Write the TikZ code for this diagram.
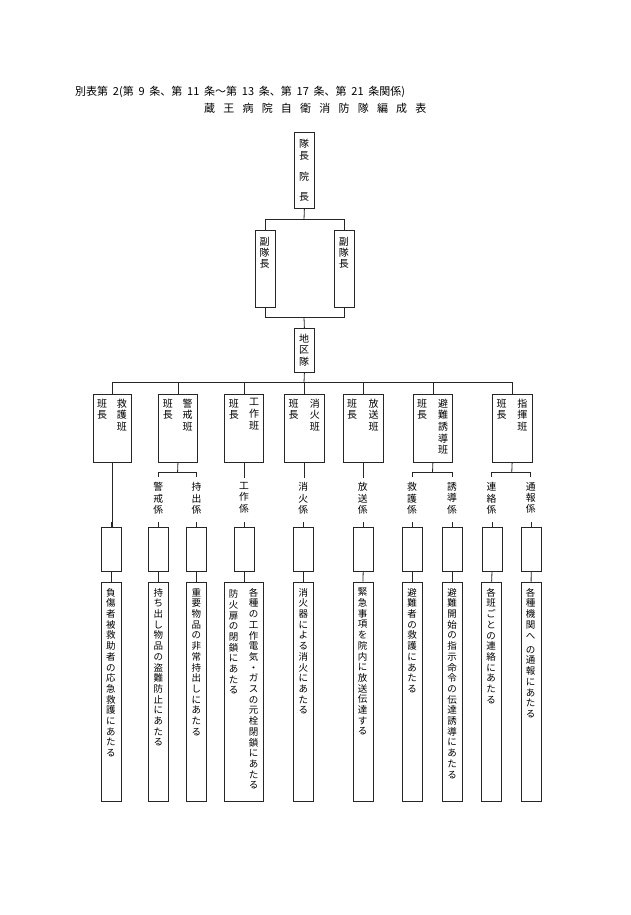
\documentclass[tikz,border=0pt]{standalone}
\usepackage{fontspec}
\newfontfamily\cjk{Noto Sans CJK JP}
\newdimen\vtgap
\makeatletter
\def\vt@end{\vt@end}
\protected\def\vgap{}
\newcommand\vtext[3][4pt]{\vtop{\vtgap=#1\relax\baselineskip=#2\relax\lineskiplimit=-\maxdimen\lineskip=0pt\edef\vt@tmp{#3}\expandafter\vt@a\vt@tmp\vt@end}}
\def\vt@a#1{%
  \ifx#1\vt@end\let\vt@next\relax
  \else
    \ifx#1\vgap\kern\vtgap\else\hbox to 1em{\hss#1\hss}\fi
    \let\vt@next\vt@a
  \fi\vt@next}
\makeatother
\newcommand\hsp{\hspace{8.2pt}}
\tikzset{
  ln/.style={draw=black!85, line width=0.8pt},
  bx/.style={draw=black!85, line width=0.8pt, rectangle, inner sep=0pt, anchor=north west},
  tx/.style={inner sep=0pt, anchor=north, font=\cjk\fontsize{10}{11}\selectfont},
  sx/.style={inner sep=0pt, anchor=north, font=\cjk\fontsize{9.5}{10.7}\selectfont},
  hd/.style={inner sep=0pt, anchor=west, font=\cjk\fontsize{11}{13}\selectfont},
}
\newcommand\bx[5]{\node[bx, minimum width=#4pt, minimum height=#5pt] (#1) at (#2,#3) {};}
\begin{document}
\begin{tikzpicture}[x=1pt,y=-1pt]
\fill[white] (0,0) rectangle (630,915);
\useasboundingbox (0,0) rectangle (630,915);
% header
\node[hd] (h1) at (75,91.5) {\makebox[330pt][s]{別表第 2(第 9 条、第 11 条～第 13 条、第 17 条、第 21 条関係)}};
\node[hd] (h2) at (204,108.5) {蔵\hsp 王\hsp 病\hsp 院\hsp 自\hsp 衛\hsp 消\hsp 防\hsp 隊\hsp 編\hsp 成\hsp 表};
% top
\bx{T}{294}{132}{20}{76}
\node[tx] (tT) at (304,138.5) {\vtext[8pt]{12.5pt}{隊長\vgap 院\vgap 長}};
\bx{L}{254.5}{230}{20}{77}
\bx{R}{333.8}{230}{20}{77}
\node[tx] (tL) at (264.5,237.5) {\vtext{11pt}{副隊長}};
\node[tx] (tR) at (343.8,237.5) {\vtext{11pt}{副隊長}};
\bx{D}{294}{328}{20}{44}
\node[tx] (tD) at (304,333.5) {\vtext{11.5pt}{地区隊}};
\coordinate (j1) at (304,219.3);
\coordinate (j2) at (304,317.3);
\coordinate (j3) at (304,382.7);
\draw[ln] (T.south) -- (j1);
\draw[ln] (L.north) |- (j1) -| (R.north);
\draw[ln] (L.south) |- (j2) -| (R.south);
\draw[ln] (j2) -- (D.north);
\draw[ln] (D.south) -- (j3);
% han boxes
\bx{B1}{92.5}{394}{38.5}{67.5}
\bx{B2}{158.3}{394}{38.5}{67.5}
\bx{B3}{224.3}{394}{39}{67.5}
\bx{B4}{284}{394}{40}{67.5}
\bx{B5}{342.7}{394}{40}{67.5}
\bx{B6}{412.7}{394}{39.6}{67.5}
\bx{B7}{492}{394}{39.5}{67.5}
\foreach \b/\t in {B1/救護班,B2/警戒班,B3/工作班,B4/消火班,B5/放送班,B6/避難誘導班,B7/指揮班}{
  \node[tx] (\b l) at ([xshift=9.5pt]\b.north west |- 0,398.5) {\vtext{11.7pt}{班長}};
  \node[tx] (\b r) at ([xshift=-10pt]\b.north east |- 0,398.5) {\vtext{11.7pt}{\t}};
  \draw[ln] (\b.north) |- (j3);
}
% kakari labels
\foreach \n/\x/\t in {L2a/158.3/警戒係,L2b/196.4/持出係,L3/244.1/工作係,L4/303.3/消火係,L5/362.8/放送係,L6a/412/救護係,L6b/452/誘導係,L7a/491.6/連絡係,L7b/530.8/通報係}{
  \node[tx, font=\cjk\fontsize{9.8}{11}\selectfont] (\n) at (\x,482.5) {\vtext{11.1pt}{\t}};
}
% empty boxes and bottom boxes
\foreach \n/\x in {1/110.8,2a/158.3,2b/196.4,3/244.1,4/303.3,5/362.8,6a/412,6b/452,7a/491.6,7b/530.8}{
  \bx{E\n}{\x-10}{526.7}{20}{44}
  \draw[ln] (E\n.north) -- ++(0,-5);
}
\foreach \n/\x in {1/110.8,2a/158.3,2b/196.4,4/303.3,5/362.5,6a/412,6b/452,7a/491.2,7b/530.7}{
  \bx{F\n}{\x-10}{581.7}{20}{219}
  \draw[ln] (E\n.south) -- (F\n.north);
}
\bx{F3}{224.3}{581.7}{39}{219}
\draw[ln] (E3.south) -- (E3.south |- F3.north);
% connectors from han boxes
\draw[ln] (B1.south) -- (B1.south |- E1.north);
\foreach \b in {B3,B4,B5}{\draw[ln] (\b.south) -- ++(0,15.2);}
\coordinate (b2a) at (158.3,476.7); \coordinate (b2b) at (196.4,476.7); \coordinate (b2m) at (177.55,472.7);
\coordinate (b6a) at (412,476.7); \coordinate (b6b) at (452,476.7); \coordinate (b6m) at (432.5,472.7);
\coordinate (b7a) at (491.6,476.7); \coordinate (b7b) at (530.8,476.7); \coordinate (b7m) at (511.75,472.7);
\draw[ln] (B2.south) -- (b2m); \draw[ln] (b2a) |- (b2m) -| (b2b);
\draw[ln] (B6.south) -- (b6m); \draw[ln] (b6a) |- (b6m) -| (b6b);
\draw[ln] (B7.south) -- (b7m); \draw[ln] (b7a) |- (b7m) -| (b7b);
% bottom texts
\node[sx] (x1) at (110.8,588) {\vtext{10.7pt}{負傷者被救助者の応急救護にあたる}};
\node[sx] (x2a) at (158.3,588) {\vtext{10.7pt}{持ち出し物品の盗難防止にあたる}};
\node[sx] (x2b) at (196.4,588) {\vtext{10.7pt}{重要物品の非常持出しにあたる}};
\node[sx] (x3r) at (253.5,588) {\vtext{10.7pt}{各種の工作電気・ガスの元栓閉鎖にあたる}};
\node[sx] (x3l) at (233.5,589.5) {\vtext{10.7pt}{防火扉の閉鎖にあたる}};
\node[sx] (x4) at (303.3,588) {\vtext{10.7pt}{消火器による消火にあたる}};
\node[sx] (x5) at (362.5,588) {\vtext{10.7pt}{緊急事項を院内に放送伝達する}};
\node[sx] (x6a) at (412,588) {\vtext{10.7pt}{避難者の救護にあたる}};
\node[sx] (x6b) at (452,588) {\vtext{10.7pt}{避難開始の指示命令の伝達誘導にあたる}};
\node[sx] (x7a) at (491.2,588) {\vtext{10.7pt}{各班ごとの連絡にあたる}};
\node[sx] (x7b) at (530.7,588) {\vtext[3.5pt]{10.7pt}{各種機関へ\vgap の通報にあたる}};
\end{tikzpicture}
\end{document}
